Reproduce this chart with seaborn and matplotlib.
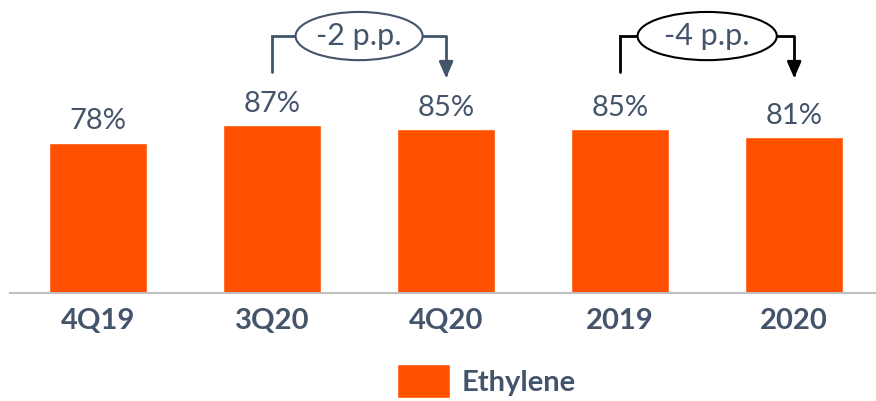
import matplotlib
matplotlib.use("Agg")
import matplotlib.pyplot as plt
from matplotlib.patches import Ellipse
import seaborn as sns
import pandas as pd

periods = ["4Q19", "3Q20", "4Q20", "2019", "2020"]
values = [78, 87, 85, 85, 81]
series_name = "Ethylene"
changes = ["-2 p.p.", "-4 p.p."]

ORANGE = "#FF5000"
SLATE = "#44546A"

sns.set_theme(style="white")
plt.rcParams["font.family"] = ["Lato", "DejaVu Sans"]

df = pd.DataFrame({"period": periods, "value": values, "series": series_name})

fig = plt.figure(figsize=(8.76, 4.01), dpi=100)
ax = fig.add_axes([0.0114, 0.2693, 0.9886, 0.7307])
sns.barplot(data=df, x="period", y="value", hue="series", palette=[ORANGE],
            width=0.56, ax=ax, legend=True, saturation=1)

ax.set_xlim(-0.506, 4.47)
ax.set_ylim(0, 152)
for s in ["top", "right", "left"]:
    ax.spines[s].set_visible(False)
ax.spines["bottom"].set_color("#BFBFBF")
ax.spines["bottom"].set_linewidth(1.5)
ax.set_yticks([])
ax.set_xlabel("")
ax.set_ylabel("")
ax.tick_params(axis="x", length=0, pad=11)
for lbl in ax.get_xticklabels():
    lbl.set_fontsize(21)
    lbl.set_fontweight("bold")
    lbl.set_color(SLATE)

for cont in ax.containers:
    ax.bar_label(cont, labels=[f"{v}%" for v in values], padding=6,
                 fontsize=21, color=SLATE)

def bracket(i0, i1, text, color, ell_w):
    ytop = 133.3
    ystart = 114.6
    yend = 111.5
    xm = (i0 + i1) / 2
    ax.plot([i0, i0, xm - ell_w / 2], [ystart, ytop, ytop], color=color, lw=2,
            solid_joinstyle="miter", clip_on=False)
    ax.annotate("", xy=(i1, yend), xytext=(xm + ell_w / 2, ytop),
                arrowprops=dict(arrowstyle="-|>,head_width=0.35,head_length=0.8",
                                connectionstyle="angle,angleA=0,angleB=90,rad=0",
                                color=color, lw=2, shrinkA=0, shrinkB=0),
                annotation_clip=False)
    ax.add_patch(Ellipse((xm, ytop), ell_w, 25, facecolor="white",
                         edgecolor=color, lw=1.5, clip_on=False, zorder=5))
    ax.text(xm, ytop, text, ha="center", va="center", fontsize=22,
            color=SLATE, zorder=6)

bracket(1, 2, changes[0], SLATE, 0.73)
bracket(3, 4, changes[1], "black", 0.80)

leg = ax.legend(loc="center", bbox_to_anchor=(0.55, -0.30), frameon=False,
                handlelength=1.8, handleheight=1.4, handletextpad=0.4,
                prop=dict(size=21, weight="bold"))
for t in leg.get_texts():
    t.set_color(SLATE)

fig.savefig("out.png", dpi=100)
